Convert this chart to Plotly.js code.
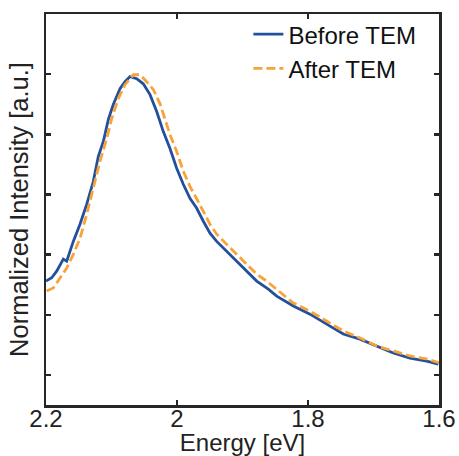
<!DOCTYPE html>
<html>
<head>
<meta charset="utf-8">
<script src="https://cdn.plot.ly/plotly-3.0.1.min.js"></script>
<style>html,body{margin:0;padding:0;background:#fff;}#chart{width:459px;height:456px;}</style>
</head>
<body>
<div id="chart"></div>
<script>
const beforeEnergy = [2.2, 2.1913, 2.1837, 2.1736, 2.1684, 2.1583, 2.1481, 2.1379, 2.1278, 2.1202, 2.1125, 2.1049, 2.0973, 2.087, 2.0794, 2.0718, 2.0615, 2.0515, 2.0412, 2.031, 2.0209, 2.0107, 2.0005, 1.9904, 1.9802, 1.9699, 1.9598, 1.9496, 1.9394, 1.9241, 1.9089, 1.8936, 1.8783, 1.8606, 1.8478, 1.8224, 1.7969, 1.7715, 1.7461, 1.7206, 1.6951, 1.6698, 1.6443, 1.6188, 1.6011];
const beforeIntensity = [0.312, 0.323, 0.345, 0.385, 0.378, 0.444, 0.501, 0.567, 0.643, 0.726, 0.776, 0.849, 0.899, 0.952, 0.975, 0.992, 0.985, 0.968, 0.932, 0.876, 0.809, 0.753, 0.687, 0.634, 0.587, 0.554, 0.511, 0.471, 0.444, 0.411, 0.378, 0.345, 0.312, 0.285, 0.262, 0.229, 0.202, 0.169, 0.136, 0.119, 0.096, 0.073, 0.056, 0.046, 0.036];
const afterEnergy = [2.199, 2.1889, 2.1786, 2.1684, 2.1583, 2.1481, 2.1379, 2.1278, 2.1176, 2.1073, 2.0997, 2.0896, 2.0794, 2.0667, 2.0565, 2.0463, 2.0362, 2.026, 2.0209, 2.0107, 2.0005, 1.9904, 1.9802, 1.9699, 1.9598, 1.9496, 1.9394, 1.9241, 1.9089, 1.8936, 1.8783, 1.8631, 1.8478, 1.8224, 1.7969, 1.7715, 1.7461, 1.7206, 1.6951, 1.6698, 1.6443, 1.6188, 1.6];
const afterIntensity = [0.279, 0.289, 0.322, 0.355, 0.401, 0.454, 0.534, 0.62, 0.71, 0.786, 0.852, 0.919, 0.965, 0.998, 0.998, 0.975, 0.949, 0.902, 0.866, 0.799, 0.743, 0.677, 0.627, 0.587, 0.544, 0.501, 0.468, 0.434, 0.401, 0.368, 0.335, 0.312, 0.285, 0.239, 0.212, 0.179, 0.146, 0.123, 0.096, 0.08, 0.063, 0.053, 0.041];
const xTicks = [2.2, 2.0, 1.8, 1.6];
const xTickLabels = ["2.2", "2", "1.8", "1.6"];
const yTicks = [0, 0.2, 0.4, 0.6, 0.8, 1.0];
const seriesNames = ["Before TEM", "After TEM"];

const FONT = "Liberation Sans, Arial, Helvetica, sans-serif";
const axisColor = "#262626";

const traces = [
  {x: beforeEnergy, y: beforeIntensity, name: seriesNames[0], type: "scatter", mode: "lines",
   line: {color: "#22509c", width: 2.8}},
  {x: afterEnergy, y: afterIntensity, name: seriesNames[1], type: "scatter", mode: "lines",
   line: {color: "#f8a33a", width: 2.8, dash: "9px,4px"}}
];

const layout = {
  width: 459, height: 456,
  margin: {l: 46, r: 20, t: 12, b: 51, pad: 0},
  paper_bgcolor: "#fff", plot_bgcolor: "#fff",
  font: {family: FONT, size: 24, color: "#222"},
  showlegend: true,
  legend: {x: 0.515, y: 1.005, xanchor: "left", yanchor: "top", bgcolor: "rgba(0,0,0,0)",
           font: {family: FONT, size: 24, color: "#111"}, tracegroupgap: 0, itemwidth: 30},
  xaxis: {
    range: [2.2, 1.6], tickvals: xTicks, ticktext: xTickLabels,
    ticks: "inside", ticklen: 5, tickwidth: 2.5, tickcolor: axisColor,
    showline: true, linecolor: axisColor, linewidth: 2.5, mirror: "ticks",
    showgrid: false, zeroline: false, ticklabelstandoff: -9,
    tickfont: {family: FONT, size: 24, color: "#222"},
    title: {text: "Energy [eV]", font: {family: FONT, size: 24, color: "#222"}, standoff: 0},
    automargin: false
  },
  yaxis: {
    range: [-0.1, 1.2], tickvals: yTicks, showticklabels: false,
    ticks: "inside", ticklen: 5, tickwidth: 2.5, tickcolor: axisColor,
    showline: true, linecolor: axisColor, linewidth: 2.5, mirror: "ticks",
    showgrid: false, zeroline: false,
    title: {text: "Normalized Intensity [a.u.]", font: {family: FONT, size: 25.5, color: "#222"}, standoff: 8},
    automargin: false
  }
};

Plotly.newPlot("chart", traces, layout, {displayModeBar: false, staticPlot: true});
</script>
</body>
</html>
